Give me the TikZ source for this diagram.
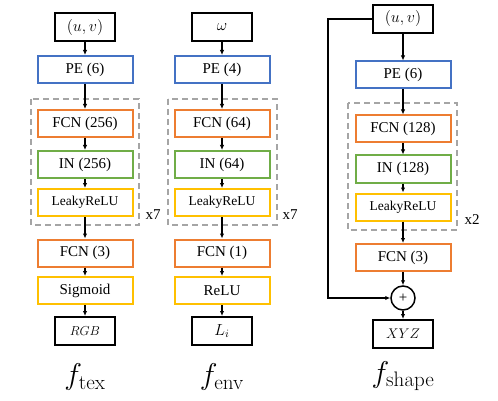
\RequirePackage{fix-cm}
\documentclass[tikz,border=0pt]{standalone}
\usepackage[no-math]{fontspec}
\setmainfont{Liberation Serif}
\usetikzlibrary{arrows.meta}
\definecolor{peblue}{HTML}{4472C4}
\definecolor{fcnorange}{HTML}{ED7D31}
\definecolor{ingreen}{HTML}{70AD47}
\definecolor{actyellow}{HTML}{FFC000}
\definecolor{repgray}{HTML}{A5A5A5}
\begin{document}
\begin{tikzpicture}[x=1pt,y=-1pt,
  layer/.style={draw, line width=2pt, minimum width=95pt, minimum height=27pt, inner sep=0pt, font=\fontsize{15}{17}\selectfont},
  pe/.style={layer, draw=peblue},
  fcn/.style={layer, draw=fcnorange},
  norm/.style={layer, draw=ingreen},
  act/.style={layer, draw=actyellow},
  io/.style={draw, line width=2pt, minimum width=60pt, minimum height=28pt, inner sep=0pt, font=\fontsize{16}{18}\selectfont},
  rep/.style={draw=repgray, line width=1.6pt, dash pattern=on 6pt off 4pt},
  flow/.style={-{Latex[length=5pt,width=4.5pt]}, line width=1.4pt},
  netname/.style={font=\fontsize{30}{33}\selectfont},
  times/.style={font=\fontsize{15}{17}\selectfont}]
\useasboundingbox (0,0) rectangle (498,401);
% repeated blocks
\draw[rep] (31,99) rectangle (139,225);
\draw[rep] (168,99) rectangle (277,225);
\draw[rep] (348,103) rectangle (457,230);
% f_tex
\node[io] (uva) at (85,27.5){$(u,v)$};
\node[pe] (pea) at (85,69.5){PE (6)};
\node[fcn] (fcna) at (85,123.5){FCN (256)};
\node[norm] (ina) at (85,164.5){IN (256)};
\node[act, font=\fontsize{13.5}{15}\selectfont] (acta) at (85,202.5){LeakyReLU};
\node[fcn] (outa) at (85,253){FCN (3)};
\node[act] (siga) at (85,290.5){Sigmoid};
\node[io, font=\fontsize{13}{15}\selectfont] (rgb) at (85,331){$RGB$};
\node[times] (repa) at (153,215){x7};
\node[netname] (ftex) at (85,377){$f_{\mathrm{tex}}$};
\draw[flow] (uva) -- (pea);
\draw[flow] (pea) -- (fcna);
\draw[flow] (fcna) -- (ina);
\draw[flow] (ina) -- (acta);
\draw[flow] (acta) -- (outa);
\draw[flow] (outa) -- (siga);
\draw[flow] (siga) -- (rgb);
% f_env
\node[io] (omega) at (222,27.5){$\omega$};
\node[pe] (peb) at (222,69.5){PE (4)};
\node[fcn] (fcnb) at (222,123.5){FCN (64)};
\node[norm] (inb) at (222,164.5){IN (64)};
\node[act, font=\fontsize{13.5}{15}\selectfont] (actb) at (222,202.5){LeakyReLU};
\node[fcn] (outb) at (222,253){FCN (1)};
\node[act] (relub) at (222,290.5){ReLU};
\node[io] (light) at (222,331){$L_i$};
\node[times] (repb) at (290,215){x7};
\node[netname] (fenv) at (222,377){$f_{\mathrm{env}}$};
\draw[flow] (omega) -- (peb);
\draw[flow] (peb) -- (fcnb);
\draw[flow] (fcnb) -- (inb);
\draw[flow] (inb) -- (actb);
\draw[flow] (actb) -- (outb);
\draw[flow] (outb) -- (relub);
\draw[flow] (relub) -- (light);
% f_shape
\node[io] (uvc) at (403,19){$(u,v)$};
\node[pe] (pec) at (403,75){PE (6)};
\node[fcn] (fcnc) at (403,129){FCN (128)};
\node[norm] (inc) at (403,169){IN (128)};
\node[act, font=\fontsize{13.5}{15}\selectfont] (actc) at (403,207){LeakyReLU};
\node[fcn] (outc) at (403,257.5){FCN (3)};
\node[circle, draw, line width=1.5pt, minimum size=24pt, inner sep=0pt, times] (sum) at (403,298){+};
\node[io, font=\fontsize{14}{16}\selectfont] (xyz) at (403,334){$XYZ$};
\node[times] (repc) at (472,220){x2};
\node[netname] (fshape) at (403,376){$f_{\mathrm{shape}}$};
\coordinate (skip) at (328,298);
\draw[flow] (uvc) -- (pec);
\draw[flow] (pec) -- (fcnc);
\draw[flow] (fcnc) -- (inc);
\draw[flow] (inc) -- (actc);
\draw[flow] (actc) -- (outc);
\draw[flow] (outc) -- (sum);
\draw[flow] (sum) -- (xyz);
\draw[flow] (uvc.west) -| (skip) -- (sum);

\end{tikzpicture}
\end{document}
